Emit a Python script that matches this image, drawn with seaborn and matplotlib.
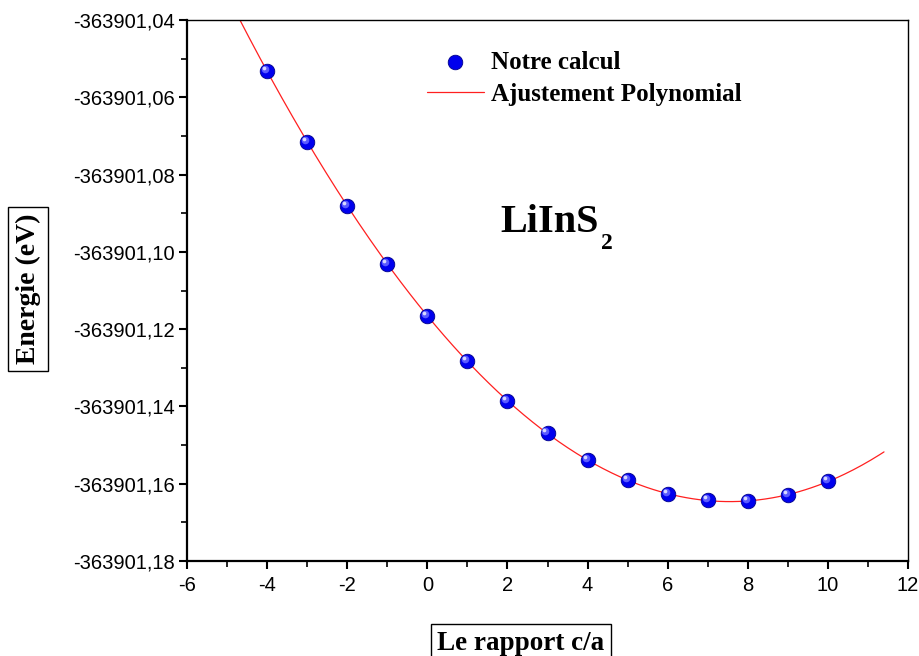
import numpy as np
import pandas as pd
import matplotlib
matplotlib.use("Agg")
import matplotlib.pyplot as plt
import matplotlib.transforms as mtransforms
from matplotlib.ticker import MultipleLocator, FuncFormatter
import seaborn as sns

# Calculated total energies versus the c/a parameter
ratio = [-4, -3, -2, -1, 0, 1, 2, 3, 4, 5, 6, 7, 8, 9, 10]
energy = [-363901.0532, -363901.0716, -363901.0881, -363901.1031,
          -363901.1166, -363901.1282, -363901.1386, -363901.1470,
          -363901.1539, -363901.1590, -363901.1627, -363901.1643,
          -363901.1644, -363901.1629, -363901.1594]

x_ticks = [-6, -4, -2, 0, 2, 4, 6, 8, 10, 12]
y_ticks = [-363901.18, -363901.16, -363901.14, -363901.12,
           -363901.10, -363901.08, -363901.06, -363901.04]

df = pd.DataFrame({"ratio": ratio, "energy": energy})

# Polynomial fit of the calculated points
coef = np.polyfit(df["ratio"], df["energy"], 3)
fit_x = np.linspace(-5.0, 11.4, 300)
fit = pd.DataFrame({"ratio": fit_x, "energy": np.polyval(coef, fit_x)})

sns.set_theme(style="white")
plt.rcParams["font.family"] = ["Liberation Sans", "DejaVu Sans"]
plt.rcParams["text.color"] = "black"
plt.rcParams["axes.labelcolor"] = "black"
plt.rcParams["xtick.color"] = "black"
plt.rcParams["ytick.color"] = "black"

fig = plt.figure(figsize=(9.2, 6.56), dpi=100)
ax = fig.add_axes([0.2033, 0.1448, 0.7837, 0.8247])

sns.lineplot(data=fit, x="ratio", y="energy", ax=ax, color="#ff2020",
             linewidth=0.9, label="Ajustement Polynomial", zorder=2)

# Shaded sphere markers: base disc plus offset highlights
sns.scatterplot(data=df, x="ratio", y="energy", ax=ax, s=110,
                color="#0000ee", edgecolor="#00008a", linewidth=0.6,
                label="Notre calcul", zorder=3)
hl1 = mtransforms.offset_copy(ax.transData, fig=fig, x=-1.5, y=1.5, units="points")
ax.scatter(df["ratio"], df["energy"], s=30, color="#5a5aff", linewidth=0,
           transform=hl1, zorder=4)
hl2 = mtransforms.offset_copy(ax.transData, fig=fig, x=-2.2, y=2.2, units="points")
ax.scatter(df["ratio"], df["energy"], s=7, color="#d8d8ff", linewidth=0,
           transform=hl2, zorder=5)

ax.set_xlim(-6, 12)
ax.set_ylim(-363901.18, -363901.04)
ax.set_xticks(x_ticks)
ax.set_yticks(y_ticks)
ax.xaxis.set_minor_locator(MultipleLocator(1))
ax.yaxis.set_minor_locator(MultipleLocator(0.01))
ax.xaxis.set_major_formatter(FuncFormatter(lambda v, p: f"{v:g}"))
ax.yaxis.set_major_formatter(FuncFormatter(lambda v, p: f"{v:.2f}".replace(".", ",")))

ax.tick_params(axis="both", which="major", direction="out", length=6,
               width=1.5, colors="black", labelsize=14.5, pad=3)
ax.tick_params(axis="both", which="minor", direction="out", length=4,
               width=1.2, colors="black")
ax.tick_params(bottom=True, left=True, which="both")
ax.tick_params(axis="x", which="major", pad=5)

for side in ["left", "bottom"]:
    ax.spines[side].set_linewidth(1.6)
    ax.spines[side].set_color("black")
for side in ["top", "right"]:
    ax.spines[side].set_linewidth(1.0)
    ax.spines[side].set_color("black")

ax.set_xlabel("")
ax.set_ylabel("")

serif_bold = dict(family=["Liberation Serif", "DejaVu Serif"], weight="bold")
box = dict(boxstyle="square,pad=0.25", facecolor="white", edgecolor="black",
           linewidth=1.0)
fig.text(28 / 920, 1 - 289 / 656, "Energie (eV)", rotation=90, ha="center",
         va="center", fontsize=20, bbox=box, **serif_bold)
fig.text(521 / 920, 1 - 643 / 656, "Le rapport c/a", ha="center",
         va="center", fontsize=19.5, bbox=box, **serif_bold)

ax.text(0.435, 0.625, "LiInS", transform=ax.transAxes, fontsize=29,
        ha="left", va="center", **serif_bold)
ax.text(0.574, 0.587, "2", transform=ax.transAxes, fontsize=17,
        ha="left", va="center", **serif_bold)

ax.legend(loc="upper left", bbox_to_anchor=(0.302, 0.985), frameon=False,
          prop=dict(family=["Liberation Serif", "DejaVu Serif"], weight="bold", size=18),
          handlelength=2.25, handletextpad=0.3, labelspacing=0.38,
          reverse=True)

fig.savefig("out.png", dpi=100)
